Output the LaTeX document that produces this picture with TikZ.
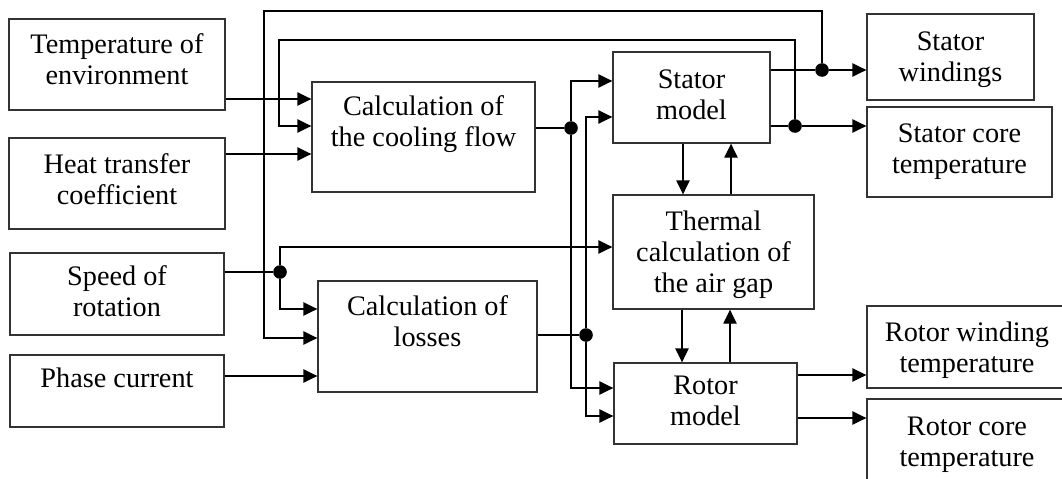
\documentclass[tikz,border=0pt]{standalone}
\usepackage{fontspec}
\setmainfont{Liberation Serif}
\usetikzlibrary{arrows.meta,positioning,calc,fit}

\begin{document}
\begin{tikzpicture}[
    x=0.75pt, y=-0.75pt,
    block/.style={
        rectangle, draw=black!80, line width=1pt, inner sep=0pt
    },
    blocktext/.style={
        anchor=north, align=center, inner sep=0pt,
        font=\fontsize{21.2}{23.25}\selectfont
    },
    signal/.style={-{Triangle[length=10.5pt,width=10pt]}, line width=1pt},
    wire/.style={line width=1pt},
    junction/.style={circle, fill=black, inner sep=0pt, minimum size=10.2pt}
]
\path[use as bounding box, fill=white] (0,0) rectangle (1062,478);

% input blocks
\node[block, fit={(9,19) (225,110)}] (envtemp) {};
\node[block, fit={(9,138) (225,229)}] (heattr) {};
\node[block, fit={(10,253) (224,335)}] (speed) {};
\node[block, fit={(10,355) (224,427)}] (phase) {};
% calculation blocks
\node[block, fit={(312,82) (535,192)}] (cooling) {};
\node[block, fit={(318,281) (537,392)}] (losses) {};
\node[block, fit={(613,52) (770,143)}] (stator) {};
\node[block, fit={(613,195) (814,309)}] (airgap) {};
\node[block, fit={(614,363) (797,444)}] (rotor) {};
% output blocks
\node[block, fit={(867,14) (1034,100)}] (statwind) {};
\node[block, fit={(867,107) (1052,197)}] (statcore) {};
\node[block, fit={(867,306) (1067,388)}] (rotwind) {};
\node[block, fit={(867,399) (1067,490)}] (rotcore) {};

% block texts
\node[blocktext] (envtemptxt) at ($(envtemp.north)+(0,15)$) {Temperature of\\environment};
\node[blocktext] (heattrtxt) at ($(heattr.north)+(0,16)$) {Heat transfer\\coefficient};
\node[blocktext] (speedtxt) at ($(speed.north)+(0,13)$) {Speed of\\rotation};
\node[blocktext] (phasetxt) at ($(phase.north)+(0,13)$) {Phase current};
\node[blocktext] (coolingtxt) at ($(cooling.north)+(0,14)$) {Calculation of\\the cooling flow};
\node[blocktext] (lossestxt) at ($(losses.north)+(0,15)$) {Calculation of\\losses};
\node[blocktext] (statortxt) at ($(stator.north)+(0,18)$) {Stator\\model};
\node[blocktext] (airgaptxt) at ($(airgap.north)+(0,16)$) {Thermal\\calculation of\\the air gap};
\node[blocktext] (rotortxt) at ($(rotor.north)+(0,13)$) {Rotor\\model};
\node[blocktext] (statwindtxt) at ($(statwind.north)+(0,18)$) {Stator\\windings};
\node[blocktext] (statcoretxt) at ($(statcore.north)+(0,17)$) {Stator core\\temperature};
\node[blocktext] (rotwindtxt) at ($(rotwind.north)+(0,16)$) {Rotor winding\\temperature};
\node[blocktext] (rotcoretxt) at ($(rotcore.north)+(0,18)$) {Rotor core\\temperature};

% junctions
\node[junction] (jsw) at (822,70) {};
\node[junction] (jsc) at (795,126) {};
\node[junction] (jcool) at (571,128) {};
\node[junction] (jloss) at (586,335) {};
\node[junction] (jspeed) at (280,272) {};

% inputs of the cooling flow
\draw[signal] (envtemp.east |- 0,99) -- (cooling.west |- 0,99);
\draw[signal] (heattr.east |- 0,154) -- (cooling.west |- 0,154);

% inputs of the losses and the air gap
\draw[wire] (speed.east |- jspeed) -- (jspeed);
\draw[signal] (jspeed) -- (jspeed |- 0,247) -- (airgap.west |- 0,247);
\draw[signal] (jspeed) -- (jspeed |- 0,309) -- (losses.west |- 0,309);
\draw[signal] (phase.east |- 0,376) -- (losses.west |- 0,376);

% feedback of the stator temperatures
\draw[signal] (jsw) -- (jsw |- 0,11) -- (264,11) -- (264,338) -- (losses.west |- 0,338);
\draw[signal] (jsc) -- (jsc |- 0,40) -- (279,40) -- (279,126) -- (cooling.west |- 0,126);

% cooling flow and losses to the models
\draw[wire] (cooling.east |- jcool) -- (jcool);
\draw[signal] (jcool) -- (jcool |- 0,81) -- (stator.west |- 0,81);
\draw[signal] (jcool) -- (jcool |- 0,388) -- (rotor.west |- 0,388);
\draw[wire] (losses.east |- jloss) -- (jloss);
\draw[signal] (jloss) -- (jloss |- 0,117) -- (stator.west |- 0,117);
\draw[signal] (jloss) -- (jloss |- 0,416) -- (rotor.west |- 0,416);

% exchange with the air gap
\draw[signal] (stator.south -| 683,0) -- (airgap.north -| 683,0);
\draw[signal] (airgap.north -| 731,0) -- (stator.south -| 731,0);
\draw[signal] (airgap.south -| 682,0) -- (rotor.north -| 682,0);
\draw[signal] (rotor.north -| 730,0) -- (airgap.south -| 730,0);

% outputs
\draw[wire] (stator.east |- jsw) -- (jsw);
\draw[signal] (jsw) -- (statwind.west |- jsw);
\draw[wire] (stator.east |- jsc) -- (jsc);
\draw[signal] (jsc) -- (statcore.west |- jsc);
\draw[signal] (rotor.east |- 0,375) -- (rotwind.west |- 0,375);
\draw[signal] (rotor.east |- 0,418) -- (rotcore.west |- 0,418);
\end{tikzpicture}
\end{document}
